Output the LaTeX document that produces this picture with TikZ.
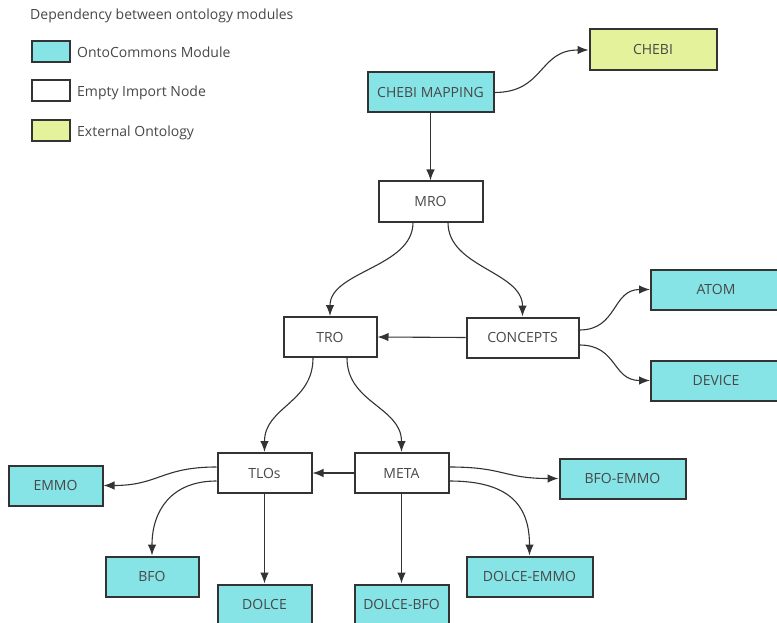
\documentclass[tikz,border=0pt]{standalone}
\usepackage{fontspec}
\setmainfont{Open Sans}
\usetikzlibrary{arrows.meta,calc}
\definecolor{oc}{HTML}{86E3E6}
\definecolor{ext}{HTML}{E3F29B}
\definecolor{bd}{HTML}{333333}
\definecolor{tx}{HTML}{484848}
\tikzset{
  box/.style={draw=bd,line width=2pt,minimum height=40pt,inner sep=0pt,text=tx,font=\fontsize{14}{16}\selectfont},
  ocbox/.style={box,fill=oc},
  extbox/.style={box,fill=ext},
  emptybox/.style={box,fill=white},
  lgbox/.style={draw=bd,line width=2pt,minimum width=38pt,minimum height=21pt,inner sep=0pt},
  lgtext/.style={anchor=base west,text=tx,inner sep=0pt,font=\fontsize{14}{16}\selectfont},
  conn/.style={draw=bd,line width=1.1pt,-{Latex[length=11pt,width=8.5pt]}}
}
\begin{document}
\begin{tikzpicture}[x=1pt,y=-1pt]
\useasboundingbox (0,0) rectangle (777,623);
\clip (0,0) rectangle (777,623);
\fill[white] (0,0) rectangle (777,623);
% legend
\node[lgtext] (title) at (30,19.5) {Dependency between ontology modules};
\node[lgbox,fill=oc] (lg1) at (51,52) {};
\node[lgtext] (lt1) at (77,57.3) {OntoCommons Module};
\node[lgbox,fill=white] (lg2) at (51,90.5) {};
\node[lgtext] (lt2) at (77,96.7) {Empty Import Node};
\node[lgbox,fill=ext] (lg3) at (51,130.5) {};
\node[lgtext] (lt3) at (77,136.7) {External Ontology};
% nodes
\node[ocbox,minimum width=126pt] (chebimap) at (430.5,92.5) {CHEBI MAPPING};
\node[extbox,minimum width=127pt,minimum height=41pt] (chebi) at (653,50) {CHEBI};
\node[emptybox,minimum width=104pt] (mro) at (430.5,201.5) {MRO};
\node[emptybox,minimum width=93pt] (tro) at (330,337) {TRO};
\node[emptybox,minimum width=112pt] (concepts) at (522.5,337.5) {CONCEPTS};
\node[ocbox,minimum width=130pt] (atom) at (716,289.5) {ATOM};
\node[ocbox,minimum width=130pt] (device) at (716,380.5) {DEVICE};
\node[emptybox,minimum width=94pt] (tlos) at (264.5,473) {TLOs};
\node[emptybox,minimum width=94pt] (meta) at (401.5,473) {META};
\node[ocbox,minimum width=94pt] (emmo) at (55.5,485.5) {EMMO};
\node[ocbox,minimum width=93pt] (bfo) at (152,576.5) {BFO};
\node[ocbox,minimum width=94pt] (dolce) at (264.5,604.5) {DOLCE};
\node[ocbox,minimum width=94pt] (dolcebfo) at (401.5,604.5) {DOLCE-BFO};
\node[ocbox,minimum width=126pt] (dolceemmo) at (529.5,576.5) {DOLCE-EMMO};
\node[ocbox,minimum width=126pt] (bfoemmo) at (622.5,478.5) {BFO-EMMO};
% connectors
\draw[conn] (chebimap.south) -- (mro.north);
\draw[conn] (chebimap.east) .. controls ++(50,0) and ($(chebi.west)+(-50,0)$) .. (chebi.west);
\draw[conn] ($(mro.south)+(-17.5,0)$) .. controls ++(0,45) and ($(tro.north)+(0,-45)$) .. (tro.north);
\draw[conn] ($(mro.south)+(17.5,0)$) .. controls ++(0,45) and ($(concepts.north)+(0,-45)$) .. (concepts.north);
\draw[conn] (concepts.west) -- (tro.east);
\draw[conn] ($(concepts.east)+(0,-7.5)$) .. controls ++(38,0) and ($(atom.west)+(-38,0)$) .. (atom.west);
\draw[conn] ($(concepts.east)+(0,7.5)$) .. controls ++(38,0) and ($(device.west)+(-38,0)$) .. (device.west);
\draw[conn] ($(tro.south)+(-17,0)$) .. controls ++(0,45) and ($(tlos.north)+(0,-45)$) .. (tlos.north);
\draw[conn] ($(tro.south)+(17,0)$) .. controls ++(0,45) and ($(meta.north)+(0,-45)$) .. (meta.north);
\draw[conn] (meta.west) -- (tlos.east);
\draw[conn] ($(tlos.west)+(0,-6)$) .. controls ++(-55,0) and ($(emmo.east)+(55,0)$) .. (emmo.east);
\draw[conn] ($(tlos.west)+(0,8)$) .. controls ++(-45,0) and ($(bfo.north)+(0,-45)$) .. (bfo.north);
\draw[conn] (tlos.south) -- (dolce.north);
\draw[conn] (meta.south) -- (dolcebfo.north);
\draw[conn] ($(meta.east)+(0,-6)$) .. controls ++(55,0) and ($(bfoemmo.west)+(-55,0)$) .. (bfoemmo.west);
\draw[conn] ($(meta.east)+(0,8)$) .. controls ++(60,0) and ($(dolceemmo.north)+(0,-50)$) .. (dolceemmo.north);
\end{tikzpicture}
\end{document}
